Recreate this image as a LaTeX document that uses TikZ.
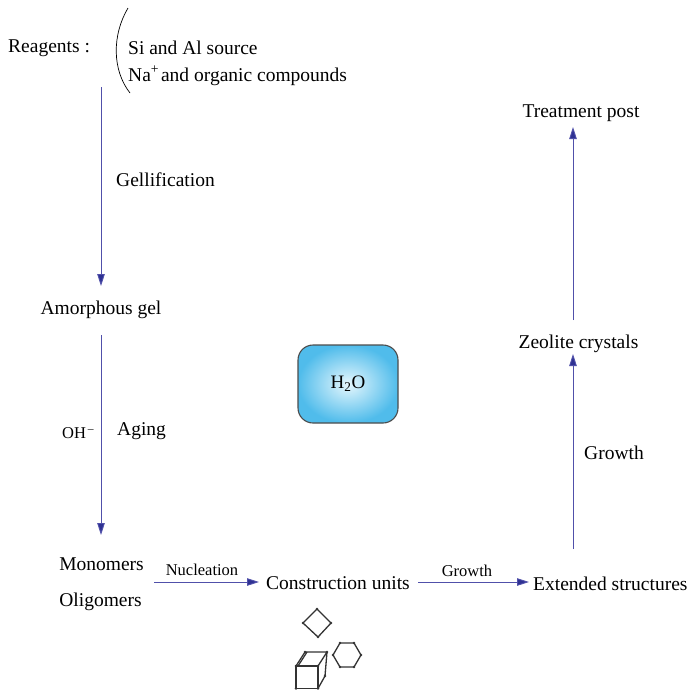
\documentclass[tikz,border=0pt]{standalone}
\usepackage{fontspec}
\setmainfont{Liberation Serif}
\usetikzlibrary{arrows.meta}
\definecolor{arrcol}{RGB}{80,80,170}
\definecolor{headcol}{RGB}{46,49,146}
\definecolor{boxout}{RGB}{80,188,235}
\definecolor{boxin}{RGB}{230,247,253}
\begin{document}
\begin{tikzpicture}[x=1pt,y=-1pt,
  lbl/.style={font=\fontsize{19.5}{22}\selectfont, inner sep=0pt},
  small/.style={font=\fontsize{16.5}{19}\selectfont, inner sep=0pt},
  arr/.style={draw=arrcol, line width=0.9pt, -{Triangle[length=12pt,width=7.5pt,fill=headcol]}},
  shp/.style={draw=black!80, line width=1.3pt, line join=round},
  vtx/.style={fill=black!80, draw=none},
]
\useasboundingbox (0,0) rectangle (696,689);

% texts
\node[lbl,anchor=west] (reag) at (8,48.5) {Reagents :};
\node[lbl,anchor=west] (si) at (128,47.5) {Si and Al source};
\node[lbl,anchor=west] (na) at (128,76) {Na\textsuperscript{+}\kern-0.15em{} and organic compounds};
\node[lbl,anchor=west] (gelif) at (116,179.5) {Gellification};
\node[lbl] (gel) at (101,309.5) {Amorphous gel};
\node[small,anchor=west] (oh) at (62,433) {OH\textsuperscript{\,–}};
\node[lbl,anchor=west] (aging) at (117,431.5) {Aging};
\node[lbl] (mono) at (101.5,564.5) {Monomers};
\node[lbl] (olig) at (100.5,601.5) {Oligomers};
\node[small] (nucl) at (202,570) {Nucleation};
\node[lbl,anchor=west] (cu) at (266,583.5) {Construction units};
\node[small] (growtha) at (467,571) {Growth};
\node[lbl,anchor=west] (ext) at (533,583.5) {Extended structures};
\node[lbl,anchor=west] (growthb) at (584,452.5) {Growth};
\node[lbl] (zeo) at (578.5,343.5) {Zeolite crystals};
\node[lbl] (treat) at (581,113.5) {Treatment post};

% water box
\node[draw=black!70, line width=1.1pt, rounded corners=15pt,
      inner color=boxin, outer color=boxout,
      minimum width=100pt, minimum height=78pt,
      font=\fontsize{19}{21}\selectfont] (water) at (348,384) {H\textsubscript{2}O};

% bracket
\draw[line width=0.7pt] (128,8) .. controls (112,35) and (112,70) .. (130,93);

% connector end points
\coordinate (s1) at (101,87);
\coordinate (e1) at (101,286);
\coordinate (s2) at (101,335);
\coordinate (e2) at (101,535);
\coordinate (s3) at (154,582);
\coordinate (e3) at (259,582);
\coordinate (s4) at (418,582);
\coordinate (e4) at (529,582);
\coordinate (s5) at (573,549);
\coordinate (e5) at (573,354);
\coordinate (s6) at (573,320);
\coordinate (e6) at (573,127);

\draw[arr] (s1) -- (e1);
\draw[arr] (s2) -- (e2);
\draw[arr] (s3) -- (e3);
\draw[arr] (s4) -- (e4);
\draw[arr] (s5) -- (e5);
\draw[arr] (s6) -- (e6);

% diamond
\draw[shp] (317,609) -- (331,623) -- (318,637) -- (303,623) -- cycle;
\foreach \p in {(317,609),(331,623),(318,637),(303,623)} \fill[vtx] \p circle (1.4pt);
% hexagon
\draw[shp] (361,655) -- (354,643) -- (340,643) -- (333,655) -- (340,667) -- (354,667) -- cycle;
\foreach \p in {(361,655),(354,643),(340,643),(333,655),(340,667),(354,667)} \fill[vtx] \p circle (1.4pt);
% cube
\draw[shp] (296,666) rectangle (318,688.5);
\draw[shp] (296,666) -- (305,652) -- (327,652) -- (318,666);
\draw[shp] (327,652) -- (325,676) -- (318,688.5);
\draw[shp] (298,666) -- (307,652);
\foreach \p in {(296,666),(318,666),(305,652),(327,652),(325,676),(318,688.5),(296,688.5)} \fill[vtx] \p circle (1.4pt);
\end{tikzpicture}
\end{document}
